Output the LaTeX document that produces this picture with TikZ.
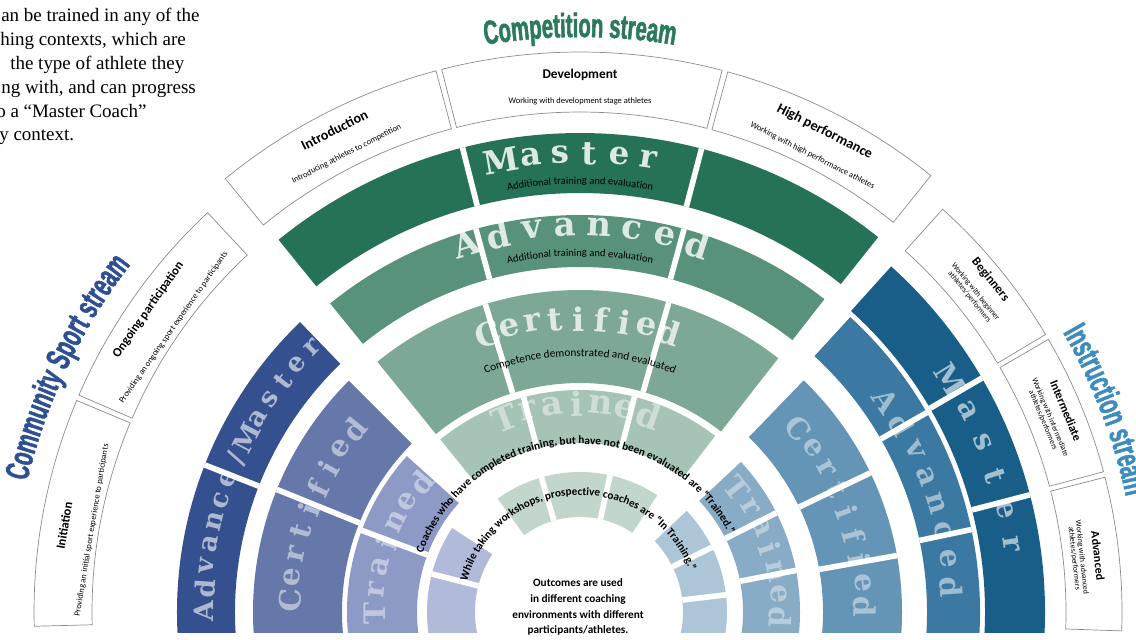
\documentclass[tikz,border=0pt]{standalone}
\usepackage{fontspec}
\setmainfont{Carlito}
\newfontfamily\streamfont{Liberation Sans}[UprightFont=* Bold, FakeStretch=0.6, FakeBold=1.6]
\newfontfamily\letterfont{DejaVu Serif}
\newfontfamily\notefont{Liberation Serif}
\usetikzlibrary{decorations.text}

\definecolor{compMa}{RGB}{38,114,86}
\definecolor{compAd}{RGB}{88,146,122}
\definecolor{compCe}{RGB}{126,168,150}
\definecolor{compTr}{RGB}{166,196,182}
\definecolor{compIn}{RGB}{194,214,203}
\definecolor{commMa}{RGB}{52,80,142}
\definecolor{commCe}{RGB}{102,120,170}
\definecolor{commTr}{RGB}{142,154,198}
\definecolor{commIn}{RGB}{178,186,218}
\definecolor{instMa}{RGB}{24,94,136}
\definecolor{instAd}{RGB}{60,121,162}
\definecolor{instCe}{RGB}{101,149,182}
\definecolor{instTr}{RGB}{137,172,198}
\definecolor{instIn}{RGB}{172,198,216}
\definecolor{compTitle}{RGB}{44,122,92}
\definecolor{commTitle}{RGB}{46,80,146}
\definecolor{instTitle}{RGB}{62,140,190}

\tikzset{
  seg/.style n args={4}{insert path={(#1:#4) arc[start angle=#1, end angle=#2, radius=#4]
      -- (#2:#3) arc[start angle=#2, end angle=#1, radius=#3] -- cycle}},
  box/.style={draw=black!45, line width=0.5pt, fill=white},
  gap/.style={white, line width=4pt},
  letter/.style={font=\letterfont\bfseries\fontsize{#1}{#1}\selectfont, text=white, inner sep=0pt},
  ttl/.style={font=\bfseries\fontsize{#1}{#1}\selectfont, inner sep=0pt},
  sub/.style={font=\fontsize{#1}{#1}\selectfont, inner sep=0pt, align=center},
  arctext/.style n args={2}{decorate, decoration={text along path, text align=center, text={|#1|#2}}},
  note/.style={font=\notefont\fontsize{13.5}{16}\selectfont, inner sep=0pt}
}

\begin{document}
\begin{tikzpicture}[x=0.025cm, y=0.025cm]
  \useasboundingbox (0,0) rectangle (1136,639);
  \clip (0,0) rectangle (1136,639);

  \begin{scope}[shift={(580,27)}]
    \begin{scope}
      \clip (-580,-20) rectangle (556,612);
      \foreach \col/\ri/\ro/\aa/\ab/\ga/\gb in {
          compMa/419/479/51.5/129/75.3/104.2, compAd/345/397/52/129/74.8/105.2,
          compCe/229/322/52/129/74/107.1, compTr/169/222/52.5/129/75.8/104.7,
          compIn/95/140/56.5/126/77.6/106,
          commMa/345/403/134/200/158.6/158.6, commCe/238/327/135/200/158/158,
          commTr/163/233/138/200/159.5/159.5, commIn/105/153/146.7/200/165.6/165.6,
          instMa/405/465/-20/48/30.2/14.6, instAd/347/400/-20/47.5/29.9/11.9,
          instCe/243/322/-20/46/25.6/10.1, instTr/163/220/-20/43/26.8/10.9,
          instIn/103/147/-20/43.5/26.1/6.7}
        {\fill[\col, seg={\aa}{\ab}{\ri}{\ro}];
         \draw[gap] (\ga:\ri) -- (\ga:\ro) (\gb:\ri) -- (\gb:\ro);}

      \foreach \word/\st/\sp/\rad/\sz/\op/\nm in {
          {M,a,s,t,e,r}/99.9/3.7/458/23/0.85/cma,
          {A,d,v,a,n,c,e,d}/107.2/5/385/24/0.8/cad,
          {C,e,r,t,i,f,i,e,d}/108.4/4.51/293/23/0.75/cce,
          {T,r,a,i,n,e,d}/111.3/6.75/208/24/0.45/ctr,
          {A,d,v,a,n,c,e,\slash,M,a,s,t,e,r}/179.8/3.42/376/19/0.6/sma,
          {C,e,r,t,i,f,i,e,d}/177.6/4.56/290/21/0.5/sce,
          {T,r,a,i,n,e,d}/180.3/6.6/205/21/0.45/str,
          {M,a,s,t,e,r}/32.1/4.64/437/21/0.6/ima,
          {A,d,v,a,n,c,e,d}/34.6/4.4/372/21/0.5/iad,
          {C,e,r,t,i,f,i,e,d}/40/4.875/285/21/0.45/ice,
          {T,r,a,i,n,e,d}/38.3/6.62/200/21/0.4/itr}
        {\foreach \ch [count=\i, evaluate=\i as \a using \st-(\i-1)*\sp] in \word
           \node[letter=\sz, text opacity=\op, rotate=\a-90] (\nm\i) at (\a:\rad) {\ch};}
    \end{scope}

    \path[arctext={\fontsize{7.5}{8}\selectfont}{Additional training and evaluation}]
      (110:428) arc[start angle=110, end angle=70, radius=428];
    \path[arctext={\fontsize{7.5}{8}\selectfont}{Additional training and evaluation}]
      (115:356) arc[start angle=115, end angle=65, radius=356];
    \path[arctext={\fontsize{8}{9}\selectfont}{Competence demonstrated and evaluated}]
      (125:256) arc[start angle=125, end angle=55, radius=256];
    \path[arctext={\bfseries\fontsize{8}{9}\selectfont}{Coaches who have completed training, but have not been evaluated are “Trained.”}]
      (180:168) arc[start angle=180, end angle=7, radius=168];
    \path[arctext={\bfseries\fontsize{8}{9}\selectfont}{While taking workshops, prospective coaches are “In Training.”}]
      (185:117) arc[start angle=185, end angle=0, radius=117];

    \foreach \aa/\ab/\ri/\ro in {51.2/74.7/500/560, 75.3/104.3/500/560, 104.9/129.3/500/560,
        133/156.6/488/546, 157.2/181.5/488/546, 30.8/48/486/542, 15/30.2/486/542, -2/14.4/486/542}
      \path[box, seg={\aa}{\ab}{\ri}{\ro}];

    \node[ttl=10, rotate=27] (intro) at (117:541) {Introduction};
    \node[sub=6, rotate=27] (introsub) at (117:514) {Introducing athletes to competition};
    \node[ttl=9.5] (devel) at (90:537) {Development};
    \node[sub=6] (develsub) at (90:511) {Working with development stage athletes};
    \node[ttl=10, rotate=-27] (high) at (63:539) {High performance};
    \node[sub=6, rotate=-27] (highsub) at (63:512) {Working with high performance athletes};
    \node[ttl=9, rotate=55] (ongoing) at (145:527) {Ongoing participation};
    \node[sub=6, rotate=55] (ongoingsub) at (145:496) {Providing an ongoing sport experience to participants};
    \node[ttl=9, rotate=80.5] (init) at (170.5:523) {Initiation};
    \node[sub=6, rotate=80.5] (initsub) at (170.5:495) {Providing an initial sport experience to participants};
    \node[ttl=9, rotate=-51] (begin) at (39:528) {Beginners};
    \node[sub=5.5, rotate=-51] (beginsub) at (39:505) {Working with beginner\\athletes/performers};
    \node[ttl=8.5, rotate=-67.5] (inter) at (22.5:526) {Intermediate};
    \node[sub=5.5, rotate=-67.5] (intersub) at (22.5:505) {Working with intermediate\\athletes/performers};
    \node[ttl=8.5, rotate=-83.8] (adv) at (6.2:521) {Advanced};
    \node[sub=5.5, rotate=-83.8] (advsub) at (6.2:501) {Working with advanced\\athletes/performers};

    \path[arctext={\streamfont\fontsize{24}{24}\selectfont\color{compTitle}}{Competition stream}]
      (110:575) arc[start angle=110, end angle=70, radius=575];
    \path[arctext={\streamfont\fontsize{24}{24}\selectfont\color{commTitle}}{Community Sport stream}]
      (175:568) arc[start angle=175, end angle=134, radius=568];
    \path[arctext={\streamfont\fontsize{24}{24}\selectfont\color{instTitle}}{Instruction stream}]
      (40:558) arc[start angle=40, end angle=2, radius=558];
  \end{scope}

  \foreach \t/\x [count=\i, evaluate=\i as \y using 617-(\i-1)*23.8] in {
      {an be trained in any of the}/1, {hing contexts, which are}/0, {the type of athlete they}/10,
      {ng with, and can progress}/1, {o a “Master Coach”}/-4, {y context.}/-1}
    \node[note, anchor=base west] (note\i) at (\x,\y) {\t};

  \node[font=\bfseries\fontsize{8}{11.3}\selectfont, align=center] (outcomes) at (578,32)
    {Outcomes are used\\in different coaching\\environments with different\\participants/athletes.};
\end{tikzpicture}
\end{document}
